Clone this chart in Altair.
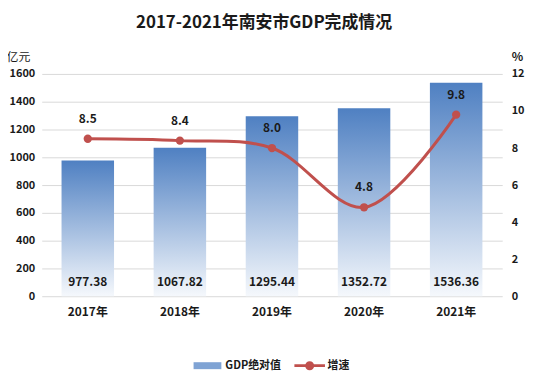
import altair as alt
import pandas as pd

years = ["2017年", "2018年", "2019年", "2020年", "2021年"]
gdp = [977.38, 1067.82, 1295.44, 1352.72, 1536.36]
growth = [8.5, 8.4, 8.0, 4.8, 9.8]
series_names = ["GDP绝对值", "增速"]
gdp_ticks = [0, 200, 400, 600, 800, 1000, 1200, 1400, 1600]
pct_ticks = [0, 2, 4, 6, 8, 10, 12]

df = pd.DataFrame({"year": years, "gdp": gdp, "growth": growth,
                   "gdp_label": [f"{v:.2f}" for v in gdp],
                   "growth_label": [f"{v:.1f}" for v in growth],
                   "series": ["增速"] * len(years)})

FONT = "Noto Sans CJK SC"
DARK = "#1a1a1a"
RED = "#c0504d"

x = alt.X("year:N", sort=years,
          scale=alt.Scale(paddingInner=0.43, paddingOuter=0.215),
          axis=alt.Axis(title=None, labelAngle=0, domain=False, ticks=False,
                        labelPadding=10, labelFontSize=12, labelFontWeight="bold",
                        labelColor=DARK, labelFont=FONT))

left_scale = alt.Scale(domain=[0, 1600])
left_axis = alt.Axis(values=gdp_ticks, format="d", labelOverlap=False,
                     grid=True, gridColor="#d9d9d9",
                     domain=False, ticks=False, labelPadding=7,
                     labelFontSize=11, labelFontWeight="bold",
                     labelColor=DARK, labelFont=FONT,
                     title="亿元", titleAngle=0, titleX=-36, titleY=-11,
                     titleAlign="left", titleBaseline="bottom",
                     titleFontWeight="normal", titleFontSize=12,
                     titleColor=DARK, titleFont=FONT)
y_left = alt.Y("gdp:Q", scale=left_scale, axis=left_axis)

right_scale = alt.Scale(domain=[0, 12])
right_axis = alt.Axis(orient="right", values=pct_ticks, format="d",
                      labelOverlap=False, grid=False,
                      domain=False, ticks=False, labelPadding=9,
                      labelFontSize=11, labelFontWeight="bold",
                      labelColor=DARK, labelFont=FONT,
                      title="%", titleAngle=0, titleX=9, titleY=-11,
                      titleAlign="left", titleBaseline="bottom",
                      titleFontWeight="bold", titleFontSize=12,
                      titleColor=DARK, titleFont=FONT)
y_right = alt.Y("growth:Q", scale=right_scale, axis=right_axis)

base = alt.Chart(df)

bars = base.mark_bar(
    color={"gradient": "linear", "x1": 0, "y1": 1, "x2": 0, "y2": 0,
           "stops": [{"offset": 0, "color": "#f5f8fc"},
                     {"offset": 1, "color": "#4f80c2"}]}
).encode(x=x, y=y_left)

bar_text = base.mark_text(font=FONT, fontSize=12, fontWeight="bold",
                          color=DARK, dy=-14, baseline="middle").encode(
    x=x, y=alt.Y(datum=0, scale=left_scale, axis=left_axis), text="gdp_label:N")

left = alt.layer(bars, bar_text)

line = base.mark_line(color=RED, strokeWidth=3, interpolate="catmull-rom").encode(
    x=x, y=y_right)
pts = base.mark_point(filled=True, color=RED, size=70, opacity=1).encode(
    x=x, y=y_right)
line_text = base.mark_text(font=FONT, fontSize=12, fontWeight="bold",
                           color=DARK, dy=-20, baseline="middle").encode(
    x=x, y=y_right, text="growth_label:N")

rect_path = "M-2,-0.5L2,-0.5L2,0.5L-2,0.5Z"
line_path = ("M-2.2,-0.2L2.2,-0.2L2.2,0.2L-2.2,0.2Z "
             "M0.65,0A0.65,0.65,0,1,1,-0.65,0A0.65,0.65,0,1,1,0.65,0Z")

leg = alt.Legend(title=None, orient="none", direction="horizontal",
                 legendX=160, legendY=287, symbolSize=196,
                 symbolStrokeWidth=0, labelOffset=11,
                 columnPadding=12, labelFont=FONT,
                 labelFontSize=11, labelFontWeight="bold",
                 labelColor=DARK)

legend_layer = base.transform_filter("datum.gdp < 0").mark_point(
    filled=True, opacity=1).encode(
    x=x, y=y_right,
    color=alt.Color("series:N",
                    scale=alt.Scale(domain=series_names, range=["#7fa3d4", RED]),
                    legend=leg),
    shape=alt.Shape("series:N",
                    scale=alt.Scale(domain=series_names, range=[rect_path, line_path]),
                    legend=leg))

right = alt.layer(line, pts, line_text, legend_layer)

chart = alt.layer(left, right).resolve_scale(y="independent").properties(
    width=464, height=224,
    autosize=alt.AutoSizeParams(type="none"),
    padding={"left": 34, "top": 65, "right": 26, "bottom": 85},
    title=alt.TitleParams("2017-2021年南安市GDP完成情况", font=FONT, fontSize=17,
                          fontWeight="bold", color=DARK, anchor="middle",
                          offset=18, dx=-8),
).configure_view(stroke=None)

chart.save("out.html", embed_options={"renderer": "svg", "actions": False})
